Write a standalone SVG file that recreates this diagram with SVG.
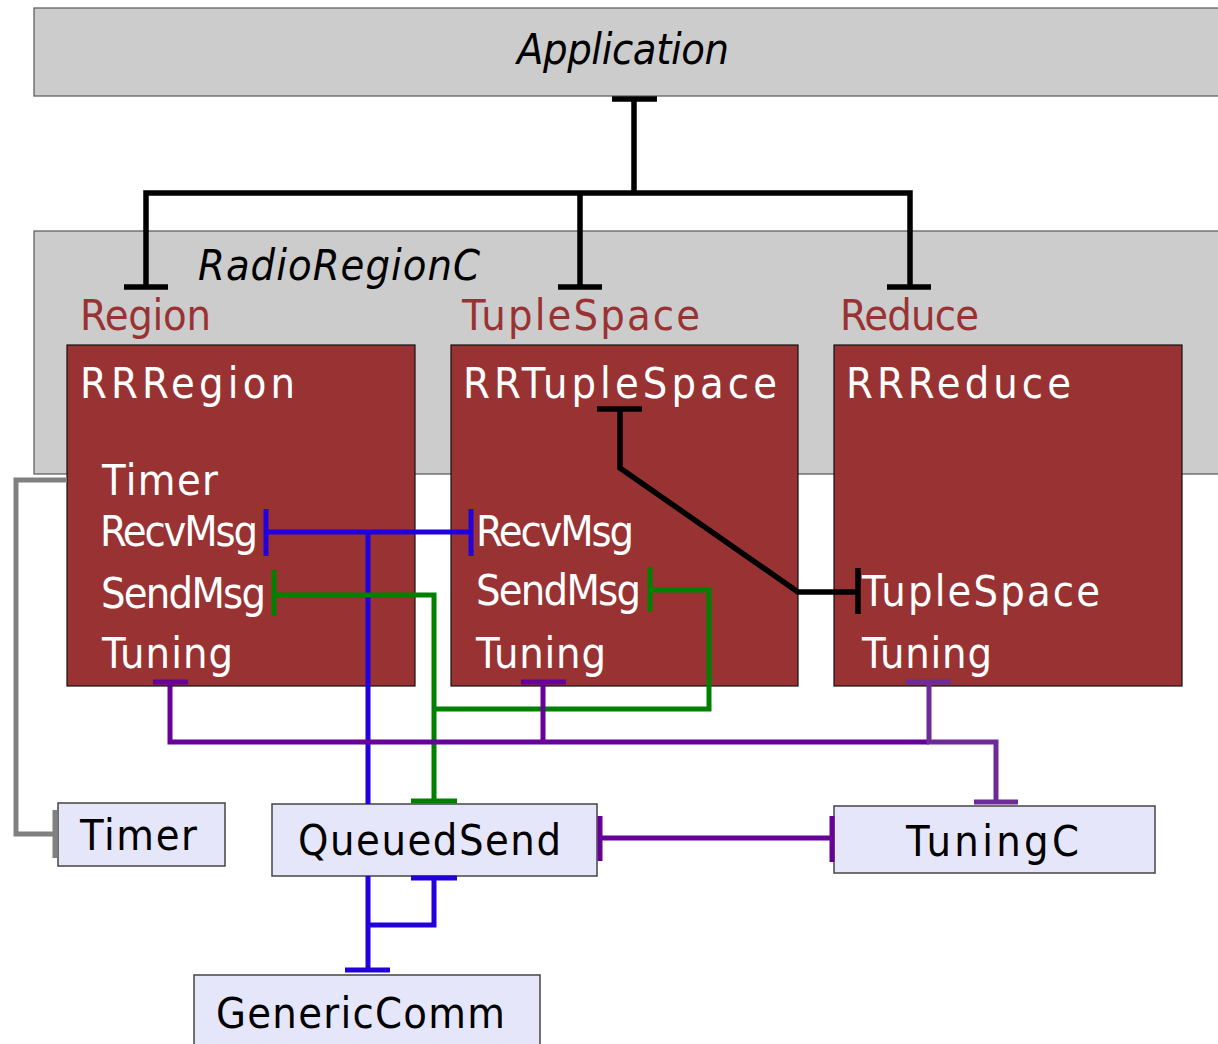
<svg xmlns="http://www.w3.org/2000/svg" width="1218" height="1044" viewBox="0 0 1218 1044">
  <style>
    text { font-family: "DejaVu Sans Condensed", "DejaVu Sans", sans-serif; font-size: 43px; }
    .frame { fill: #cccccc; stroke: #555555; stroke-width: 1.2; }
    .module { fill: #993333; stroke: #111111; stroke-width: 1.2; }
    .comp { fill: #e6e6fa; stroke: #444444; stroke-width: 1.5; }
    .title { font-style: italic; fill: #000000; }
    .iface { fill: #993333; }
    .white { fill: #ffffff; }
    .dark { fill: #000000; }
    .wire { fill: none; stroke-width: 5; stroke-linejoin: miter; stroke-linecap: butt; }
    .k { stroke: #000000; stroke-width: 5.5; }
    .b { stroke: #2200dd; }
    .g { stroke: #008000; }
    .p { stroke: #660099; }
    .p2 { stroke: #6e2a98; }
    .gr { stroke: #808080; }
  </style>

  <!-- Application frame -->
  <g id="application">
    <rect class="frame" x="34" y="8" width="1190" height="88"/>
    <text class="title" x="517" y="64" textLength="212" lengthAdjust="spacing">Application</text>
  </g>

  <!-- RadioRegionC configuration frame -->
  <g id="radioregionc">
    <rect class="frame" x="34" y="231" width="1190" height="243"/>
    <text class="title" x="198" y="280" textLength="282" lengthAdjust="spacing">RadioRegionC</text>
    <text class="iface" x="80" y="330" textLength="131" lengthAdjust="spacing">Region</text>
    <text class="iface" x="462" y="330" textLength="238" lengthAdjust="spacing">TupleSpace</text>
    <text class="iface" x="840" y="330" textLength="139" lengthAdjust="spacing">Reduce</text>
  </g>

  <g id="rrregion">
    <rect class="module" x="67" y="345" width="348" height="341"/>
    <text class="white" x="80" y="398" textLength="215" lengthAdjust="spacing">RRRegion</text>
    <text class="white" x="102" y="495" textLength="116" lengthAdjust="spacing">Timer</text>
    <text class="white" x="100" y="546" textLength="158" lengthAdjust="spacing">RecvMsg</text>
    <text class="white" x="101" y="608" textLength="165" lengthAdjust="spacing">SendMsg</text>
    <text class="white" x="102" y="668" textLength="131" lengthAdjust="spacing">Tuning</text>
  </g>

  <g id="rrtuplespace">
    <rect class="module" x="451" y="345" width="347" height="341"/>
    <text class="white" x="463" y="398" textLength="314" lengthAdjust="spacing">RRTupleSpace</text>
    <text class="white" x="476" y="546" textLength="158" lengthAdjust="spacing">RecvMsg</text>
    <text class="white" x="476" y="605" textLength="165" lengthAdjust="spacing">SendMsg</text>
    <text class="white" x="476" y="668" textLength="130" lengthAdjust="spacing">Tuning</text>
  </g>

  <g id="rrreduce">
    <rect class="module" x="834" y="345" width="348" height="341"/>
    <text class="white" x="846" y="398" textLength="225" lengthAdjust="spacing">RRReduce</text>
    <text class="white" x="862" y="606" textLength="238" lengthAdjust="spacing">TupleSpace</text>
    <text class="white" x="862" y="668" textLength="130" lengthAdjust="spacing">Tuning</text>
  </g>

  <g id="timer">
    <rect class="comp" x="58" y="803" width="167" height="63"/>
    <text class="dark" x="80" y="850" textLength="117" lengthAdjust="spacing">Timer</text>
  </g>

  <g id="queuedsend">
    <rect class="comp" x="272" y="804" width="325" height="72"/>
    <text class="dark" x="298" y="855" textLength="263" lengthAdjust="spacing">QueuedSend</text>
  </g>

  <g id="tuningc">
    <rect class="comp" x="834" y="806" width="321" height="67"/>
    <text class="dark" x="906" y="856" textLength="173" lengthAdjust="spacing">TuningC</text>
  </g>

  <g id="genericcomm">
    <rect class="comp" x="194" y="975" width="346" height="75"/>
    <text class="dark" x="216" y="1028" textLength="289" lengthAdjust="spacing">GenericComm</text>
  </g>

  <!-- wiring -->
  <g id="connectors">
    <!-- Application fan-out -->
    <path class="wire k" d="M612 99 H657 M634 99 V193 M146 287 V193 H910 V287 M580 193 V287"/>
    <path class="wire k" d="M124 287 H168 M558 287 H602 M887 287 H931"/>

    <!-- RRTupleSpace to RRReduce.TupleSpace -->
    <path class="wire k" d="M597 409 H642 M620 409 V468 L798 592 H858 M858 568 V614"/>

    <!-- RecvMsg (blue) -->
    <path class="wire b" d="M266 509 V556 M471 509 V556 M266 532 H471 M368 532 V804"/>
    <path class="wire b" d="M368 876 V970 M368 925 H434 V878 M411 878 H457 M345 970 H390"/>

    <!-- SendMsg (green) -->
    <path class="wire g" d="M274 570 V616 M274 595 H434 V801 M411 801 H457"/>
    <path class="wire g" d="M650 567 V612 M650 590 H709 V709 H434"/>

    <!-- Tuning (purple) -->
    <path class="wire p" d="M153 682 H188 M170 682 V742 H929 M521 682 H566 M543 682 V742"/>
    <path class="wire p2" d="M906 682 H951 M929 682 V742 H996 V802 M974 802 H1018"/>
    <path class="wire p" d="M600 838 H832 M600 816 V861 M832 816 V862"/>

    <!-- Timer (gray) -->
    <path class="wire gr" d="M67 480 H16 V834 H55 M55 810 V858"/>
  </g>
</svg>
